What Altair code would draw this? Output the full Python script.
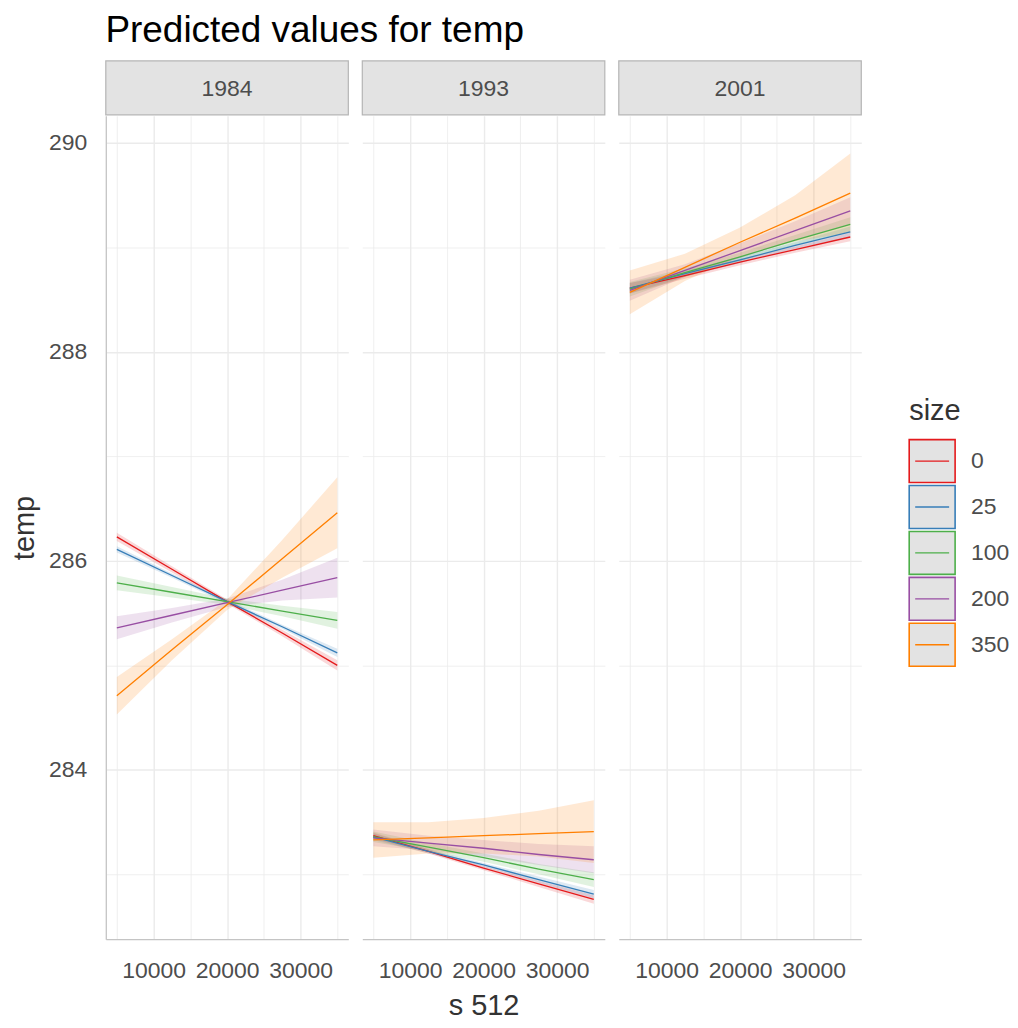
import altair as alt
import pandas as pd

# ---------------- data ----------------
years = ["1984", "1993", "2001"]
sizes = ["0", "25", "100", "200", "350"]
colors = ["#E41A1C", "#377EB8", "#4DAF4A", "#984EA3", "#FF7F00"]
s512 = [5000, 12500, 20000, 27500, 35000]

# predicted temp per size (rows in order of `sizes`), at the s512 points
fit_1984 = [
    [286.23, 285.92, 285.61, 285.31, 285.00],
    [286.11, 285.86, 285.61, 285.37, 285.12],
    [285.79, 285.70, 285.61, 285.52, 285.43],
    [285.36, 285.48, 285.60, 285.72, 285.84],
    [284.71, 285.15, 285.58, 286.02, 286.46],
]
fit_1993 = [
    [283.37, 283.22, 283.06, 282.91, 282.76],
    [283.36, 283.22, 283.09, 282.95, 282.81],
    [283.36, 283.26, 283.16, 283.05, 282.95],
    [283.35, 283.30, 283.25, 283.19, 283.14],
    [283.33, 283.35, 283.37, 283.39, 283.41],
]
fit_2001 = [
    [288.61, 288.73, 288.86, 288.98, 289.10],
    [288.61, 288.75, 288.88, 289.02, 289.15],
    [288.60, 288.76, 288.91, 289.07, 289.22],
    [288.59, 288.78, 288.97, 289.16, 289.35],
    [288.57, 288.81, 289.05, 289.28, 289.52],
]
# half width of the confidence band
hw_1984 = [
    [0.04, 0.03, 0.02, 0.03, 0.05],
    [0.03, 0.02, 0.02, 0.02, 0.04],
    [0.07, 0.05, 0.03, 0.05, 0.08],
    [0.11, 0.07, 0.04, 0.10, 0.19],
    [0.18, 0.10, 0.05, 0.18, 0.34],
]
hw_1993 = [
    [0.03, 0.02, 0.02, 0.03, 0.04],
    [0.03, 0.02, 0.02, 0.03, 0.04],
    [0.05, 0.04, 0.04, 0.05, 0.07],
    [0.08, 0.07, 0.08, 0.10, 0.13],
    [0.17, 0.15, 0.17, 0.22, 0.30],
]
hw_2001 = [
    [0.05, 0.03, 0.03, 0.03, 0.04],
    [0.05, 0.03, 0.03, 0.03, 0.05],
    [0.07, 0.04, 0.04, 0.05, 0.07],
    [0.10, 0.06, 0.07, 0.09, 0.13],
    [0.21, 0.13, 0.14, 0.22, 0.38],
]
fits = {"1984": fit_1984, "1993": fit_1993, "2001": fit_2001}
hws = {"1984": hw_1984, "1993": hw_1993, "2001": hw_2001}

x_ticks = [5000, 10000, 15000, 20000, 25000, 30000, 35000]
y_ticks = [283, 284, 285, 286, 287, 288, 289, 290]
x_domain = [3500, 36500]
y_domain = [282.38, 290.26]

rows = []
for yr in years:
    for si, sz in enumerate(sizes):
        for k, xv in enumerate(s512):
            f = fits[yr][si][k]
            h = hws[yr][si][k]
            rows.append({"year": yr, "size": sz, "s512": xv, "fit": f,
                         "lo": f - h, "hi": f + h})
df = pd.DataFrame(rows)

FONT = "Liberation Sans"
W, H = 243, 825
GRID = "#EBEBEB"
AXIS = "#C4C4C4"
TXT = "#4D4D4D"
TITLE_C = "#333333"
NO_VIEW = alt.ViewBackground(stroke="transparent", strokeWidth=0)


def color_scale():
    return alt.Scale(domain=sizes, range=colors)


def panel(yr, first, middle):
    d = df[df["year"] == yr]
    x_axis = alt.Axis(
        values=x_ticks, format="d",
        labelExpr="datum.value % 10000 == 0 ? datum.label : ''",
        title="s 512" if middle else None,
        titleFontSize=29, titleFont=FONT, titleFontWeight="normal", titleColor=TITLE_C,
        titlePadding=9,
        labelFontSize=23, labelFont=FONT, labelColor=TXT, labelPadding=20,
        ticks=False, domainColor=AXIS, domainWidth=1.3,
        gridColor=GRID,
        gridWidth={"condition": {"test": "datum.value % 10000 == 0", "value": 1.4}, "value": 0.8},
        labelFlush=False, labelOverlap=False,
    )
    y_axis = alt.Axis(
        values=y_ticks, format="d",
        labelExpr="datum.value % 2 == 0 ? datum.label : ''",
        title="temp" if first else None,
        labels=first, domain=first,
        titleFontSize=29, titleFont=FONT, titleFontWeight="normal", titleColor=TITLE_C,
        titlePadding=9,
        labelFontSize=23, labelFont=FONT, labelColor=TXT, labelPadding=19 if first else 0,
        ticks=False, domainColor=AXIS, domainWidth=1.3,
        gridColor=GRID,
        gridWidth={"condition": {"test": "datum.value % 2 == 0", "value": 1.4}, "value": 0.8},
        labelOverlap=False,
    )
    xs = alt.X("s512:Q", scale=alt.Scale(domain=x_domain, nice=False, zero=False), axis=x_axis)
    ys = alt.Y("lo:Q", scale=alt.Scale(domain=y_domain, nice=False, zero=False), axis=y_axis)

    band = alt.Chart(d).mark_area(opacity=0.17).encode(
        x=xs, y=ys, y2="hi:Q",
        fill=alt.Fill("size:N", sort=sizes, scale=color_scale(), legend=None),
        detail="size:N",
    )
    line = alt.Chart(d).mark_line(strokeWidth=1.3).encode(
        x=xs, y=alt.Y("fit:Q"),
        stroke=alt.Stroke("size:N", sort=sizes, scale=color_scale(), legend=None),
    )
    strip_df = pd.DataFrame({"year": [yr]})
    strip_box = alt.Chart(strip_df).mark_rect(
        fill="#E3E3E3", stroke="#B5B5B5", strokeWidth=1.2
    ).encode(x=alt.value(0), x2=alt.value(W), y=alt.value(-55), y2=alt.value(-1))
    strip_txt = alt.Chart(strip_df).mark_text(
        font=FONT, fontSize=23, color=TXT, baseline="middle", align="center"
    ).encode(x=alt.value(W / 2), y=alt.value(-27), text="year:N")
    return alt.layer(band, line, strip_box, strip_txt).properties(
        width=W, height=H, view=NO_VIEW)


# ---------------- legend drawn as its own small view ----------------
leg_df = pd.DataFrame({"size": sizes})
yleg = alt.Y("size:N", sort=sizes, axis=None,
             scale=alt.Scale(domain=sizes, range=[323, 553],
                             paddingInner=0.065, paddingOuter=0.0325))
leg_box = alt.Chart(leg_df).mark_rect(fill="#E3E3E3", strokeWidth=1.6).encode(
    y=yleg, x=alt.value(35), x2=alt.value(81),
    stroke=alt.Stroke("size:N", scale=color_scale(), legend=None),
)
leg_line = alt.Chart(leg_df).mark_rule(strokeWidth=1.3).encode(
    y=yleg, x=alt.value(41), x2=alt.value(75),
    stroke=alt.Stroke("size:N", scale=color_scale(), legend=None),
)
leg_lab = alt.Chart(leg_df).mark_text(
    align="left", baseline="middle", font=FONT, fontSize=23, color=TXT
).encode(y=yleg, x=alt.value(97), text="size:N")
leg_title = alt.Chart(pd.DataFrame({"t": ["size"]})).mark_text(
    align="left", baseline="alphabetic", font=FONT, fontSize=29, color=TITLE_C
).encode(x=alt.value(35), y=alt.value(305), text="t:N")
legend_view = alt.layer(leg_box, leg_line, leg_lab, leg_title).properties(
    width=125, height=H, view=NO_VIEW)

chart = alt.hconcat(
    panel("1984", True, False),
    panel("1993", False, True),
    panel("2001", False, False),
    legend_view,
    spacing=12,
).resolve_scale(
    x="independent", y="independent", stroke="independent", fill="independent"
).properties(
    title=alt.TitleParams("Predicted values for temp", anchor="start", fontSize=37,
                          font=FONT, fontWeight="normal", color="black", offset=10, dx=95),
    padding={"left": 2, "top": 3, "right": 0, "bottom": 0},
).configure_view(stroke="transparent", strokeWidth=0).configure(background="white")

chart.save("out.html", embed_options={"renderer": "svg", "actions": False})
